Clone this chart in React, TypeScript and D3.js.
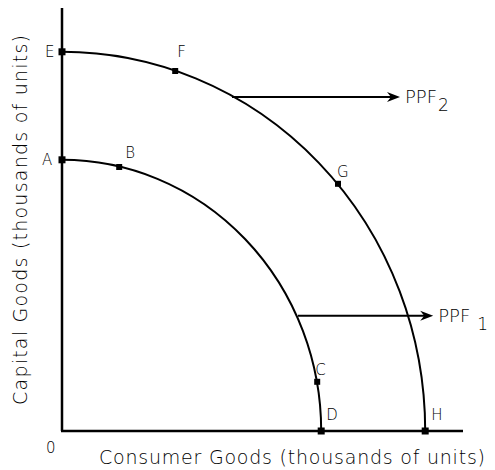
import React, { useEffect, useRef } from "react";
import * as d3 from "d3";

// frontier intercepts (consumer max, capital max)
const ppfNames = ["PPF1", "PPF2"];
const consumerMax = [6.48, 9.08];
const capitalMax = [6.78, 9.48];

// labelled points on the frontiers
const pointLabels = ["E", "F", "G", "H", "A", "B", "C", "D"];
const pointX = [0, 2.83, 6.9, 9.08, 0, 1.43, 6.38, 6.48];
const pointY = [9.48, 9.0, 6.18, 0, 6.78, 6.6, 1.23, 0];
const pointBig = [true, false, false, true, true, false, false, true];
// label offsets in px (dx, dy to baseline)
const labelDx = [-17, 2, -1, 6, -20, 6, -2, 5];
const labelDy = [5, -14, -7, -11, 5, -9, -7, -11];

// shift arrows: y level, start x, tip x
const arrowY = [2.88, 8.35];
const arrowX0 = [5.9, 4.25];
const arrowX1 = [9.28, 8.45];
const arrowSub = ["1", "2"];

export default function App() {
  const ref = useRef<SVGSVGElement>(null);

  useEffect(() => {
    const width = 495, height = 470;
    const svg = d3.select(ref.current).attr("width", width).attr("height", height);
    svg.selectAll("*").remove();

    const x = d3.scaleLinear().domain([0, 10]).range([62, 462]);
    const y = d3.scaleLinear().domain([0, 10]).range([431, 31]);
    const font = "DejaVu Sans, sans-serif";
    const weight = 200;

    // axes
    svg.append("line").attr("x1", x(0)).attr("x2", x(0)).attr("y1", 8).attr("y2", y(0))
      .attr("stroke", "#000").attr("stroke-width", 2.5);
    svg.append("line").attr("x1", x(0) - 1).attr("x2", 463).attr("y1", y(0)).attr("y2", y(0))
      .attr("stroke", "#000").attr("stroke-width", 2.5);

    // frontiers as elliptical quadrants
    ppfNames.forEach((n, i) => {
      const rx = x(consumerMax[i]) - x(0);
      const ry = y(0) - y(capitalMax[i]);
      svg.append("path")
        .attr("d", `M${x(0)},${y(capitalMax[i])} A${rx},${ry} 0 0 1 ${x(consumerMax[i])},${y(0)}`)
        .attr("fill", "none").attr("stroke", "#000").attr("stroke-width", 2);
    });

    // arrows
    ppfNames.forEach((n, i) => {
      const yy = y(arrowY[i]);
      const x0 = x(arrowX0[i]), x1 = x(arrowX1[i]);
      svg.append("line").attr("x1", x0).attr("x2", x1 - 6).attr("y1", yy).attr("y2", yy)
        .attr("stroke", "#000").attr("stroke-width", 2);
      svg.append("path")
        .attr("d", `M${x1},${yy} L${x1 - 13},${yy - 5} L${x1 - 9},${yy} L${x1 - 13},${yy + 5} Z`)
        .attr("fill", "#000");
      const t = svg.append("text").attr("x", x1 + 5).attr("y", yy + 6)
        .attr("font-family", font).attr("font-weight", weight).attr("font-size", 18).attr("fill", "#000");
      t.append("tspan").text("PPF");
      t.append("tspan").attr("dx", i === 0 ? 7 : 1).attr("dy", 8).attr("font-size", 17).text(arrowSub[i]);
    });

    // points
    pointLabels.forEach((l, i) => {
      const s = pointBig[i] ? 7 : 6;
      svg.append("rect").attr("x", x(pointX[i]) - s / 2).attr("y", y(pointY[i]) - s / 2)
        .attr("width", s).attr("height", s).attr("fill", "#000");
      svg.append("text").attr("x", x(pointX[i]) + labelDx[i]).attr("y", y(pointY[i]) + labelDy[i])
        .attr("font-family", font).attr("font-weight", weight).attr("font-size", 15)
        .attr("fill", "#000").text(l);
    });

    // origin
    svg.append("text").attr("x", 46).attr("y", 453).attr("font-family", font)
      .attr("font-weight", weight).attr("font-size", 15).attr("fill", "#000").text("0");

    // axis titles
    svg.append("text").attr("x", 99).attr("y", 464).attr("font-family", font)
      .attr("font-weight", weight).attr("font-size", 19).attr("fill", "#000")
      .attr("textLength", 386).attr("lengthAdjust", "spacing")
      .text("Consumer Goods (thousands of units)");
    svg.append("text").attr("transform", "translate(27,405) rotate(-90)")
      .attr("font-family", font).attr("font-weight", weight).attr("font-size", 19).attr("fill", "#000")
      .attr("textLength", 370).attr("lengthAdjust", "spacing")
      .text("Capital Goods (thousands of units)");
  }, []);

  return (
    <div style={{ position: "absolute", left: 0, top: 0 }}>
      <svg ref={ref}></svg>
    </div>
  );
}
